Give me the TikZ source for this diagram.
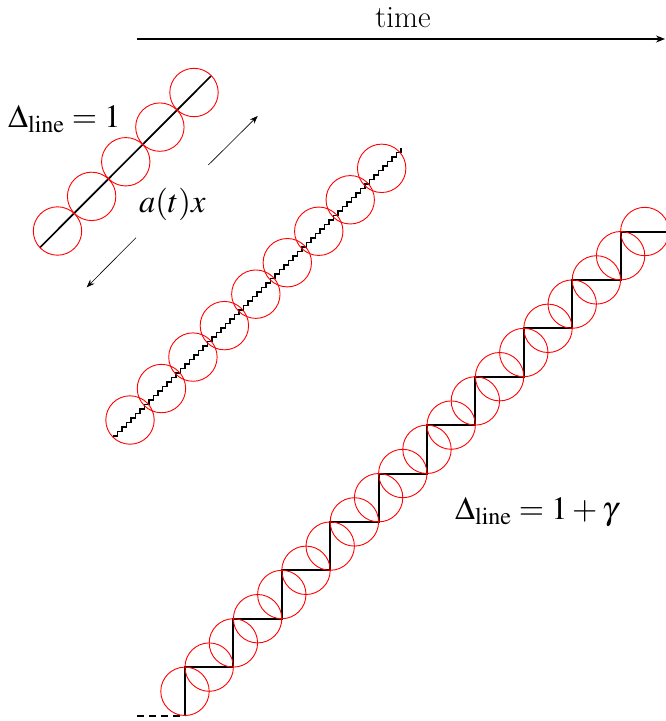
\documentclass[tikz,border=0pt]{standalone}
\usepackage{mathptmx}
\usetikzlibrary{arrows.meta}
\begin{document}
\begin{tikzpicture}[x=1pt,y=-1pt,
  ring/.style={red, line width=0.9pt},
  thickline/.style={line width=1.7pt, black},
  thinarrow/.style={line width=0.6pt, -{Stealth[length=8pt,width=6pt]}},
  lbl/.style={inner sep=0pt, font=\fontsize{31}{37}\selectfont},
  mlbl/.style={inner sep=0pt, font=\fontsize{32.5}{38}\selectfont}]
\useasboundingbox (0,0) rectangle (665,721);

% time axis
\coordinate (t0) at (137,39);
\coordinate (t1) at (665,39);
\draw[line width=1.3pt, -{Stealth[length=9pt,width=7pt]}] (t0) -- (t1);
\node[lbl] (time) at (403,18) {time};

% panel 1: tangent circles
\coordinate (p1a) at (40,247.5);
\coordinate (p1b) at (211,76);
\draw[thickline] (p1a) -- (p1b);
\foreach \i in {0,...,4}
  \draw[ring] ({57.5+34.125*\i},{231-34.625*\i}) circle (24.2);

% expansion arrows
\coordinate (u0) at (208.3,165);
\coordinate (u1) at (257.7,116);
\coordinate (l0) at (136,237.7);
\coordinate (l1) at (86.7,287.3);
\draw[thinarrow] (u0) -- (u1);
\draw[thinarrow] (l0) -- (l1);

% panel 2: fine staircase
\coordinate (s2a) at (113,436);
\draw[line width=1.9pt] (s2a) \foreach \i in {1,...,64}{ -- ++(4.5,0) -- ++(0,-4.5)};
\foreach \i in {0,...,8}
  \draw[ring] ({130+31.46*\i},{420-31.46*\i}) circle (24.2);

% panel 3: coarse staircase
\coordinate (s3d) at (137,715.5);
\coordinate (s3a) at (185,715.5);
\draw[line width=2pt, dash pattern=on 7pt off 5pt] (s3d) -- (s3a);
\draw[line width=2pt] (s3a) \foreach \i in {1,...,10}{ -- ++(0,-48.4) -- ++(48.4,0)};
\foreach \j in {0,...,19}
  \draw[ring] ({185+24.2*\j},{691.3-24.2*\j}) circle (24.2);

% labels
\node[mlbl, anchor=base west] (d1) at (8,127) {$\Delta_{\mathrm{line}}=1$};
\node[mlbl, anchor=base west] (atx) at (139,212) {$a(t)x$};
\node[mlbl, anchor=base west] (d2) at (455,519) {$\Delta_{\mathrm{line}}=1+\gamma$};
\end{tikzpicture}
\end{document}
